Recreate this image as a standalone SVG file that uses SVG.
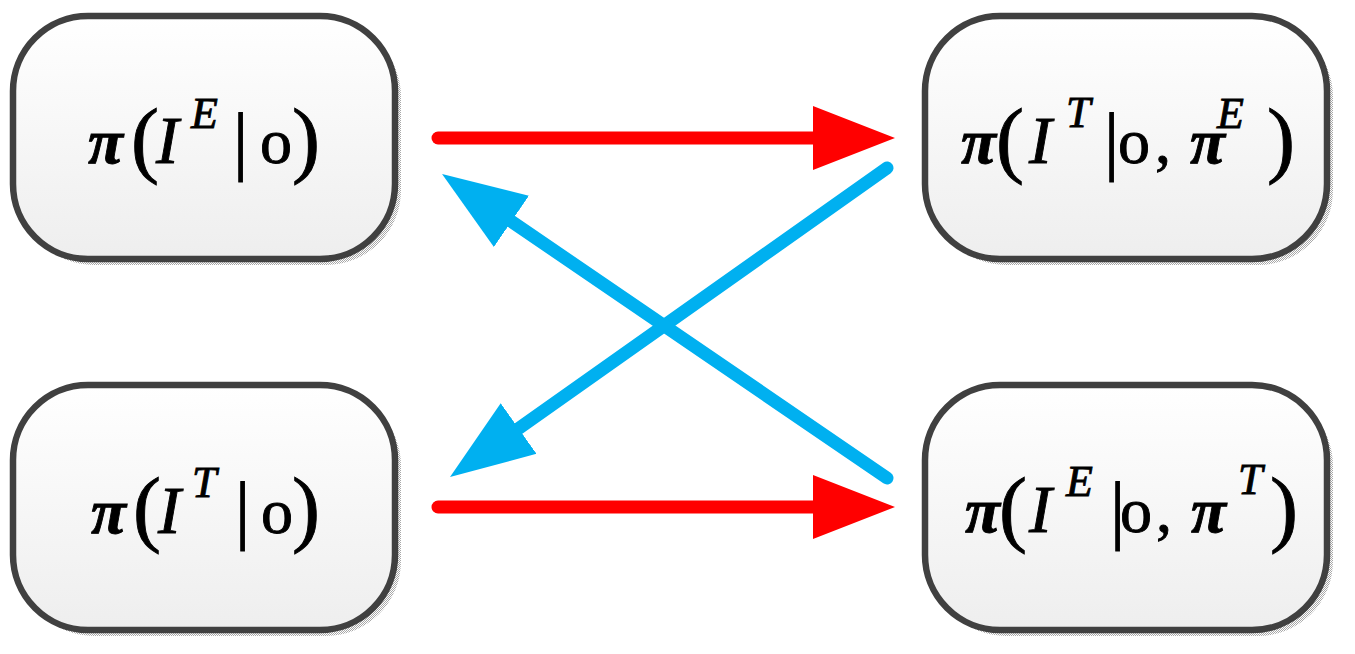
<svg xmlns="http://www.w3.org/2000/svg" width="1355" height="654" viewBox="0 0 1355 654">
<style>
.box{fill:url(#g);stroke:#404040;stroke-width:6.5}
.sh{fill:url(#chk)}
.t{font-family:"Liberation Serif","Times New Roman",serif;font-size:64px;fill:#000;stroke:#000;stroke-width:0.9}
.i{font-style:italic;font-size:68px}
.p{font-style:italic;font-weight:bold}
.sup{font-size:44px;font-style:italic}
.par{font-size:84px}
.bar{font-size:76px}
.red{stroke:#FF0000;stroke-width:13;stroke-linecap:round;fill:none}
.blue{stroke:#00B0F0;stroke-width:13;stroke-linecap:round;fill:none}
</style>
<defs>
<linearGradient id="g" x1="0" y1="0" x2="0" y2="1">
<stop offset="0" stop-color="#FFFFFF"/>
<stop offset="1" stop-color="#EEEEEE"/>
</linearGradient>
<pattern id="chk" width="2" height="2" patternUnits="userSpaceOnUse">
<rect width="2" height="2" fill="#FFFFFF"/>
<rect width="1" height="1" fill="#A8A8A8"/>
<rect x="1" y="1" width="1" height="1" fill="#A8A8A8"/>
</pattern>
<marker id="ar" markerUnits="userSpaceOnUse" markerWidth="90" markerHeight="70" viewBox="0 -35 90 70" refX="0" refY="0" orient="auto">
<path d="M0,-32 L82,0 L0,32 Z" fill="#FF0000"/>
</marker>
<marker id="ab" markerUnits="userSpaceOnUse" markerWidth="90" markerHeight="70" viewBox="0 -35 90 70" refX="0" refY="0" orient="auto">
<path d="M0,-31 L84,0 L0,31 Z" fill="#00B0F0"/>
</marker>
</defs>
<rect width="1355" height="654" fill="#FFFFFF"/>

<g id="n1">
<rect class="sh" x="19" y="22" width="382" height="243" rx="75" ry="75"/>
<rect class="box" x="13" y="16" width="382" height="243" rx="75" ry="75"/>
<text class="t"><tspan class="p" x="88" y="163">π</tspan><tspan class="par" x="131" y="167">(</tspan><tspan class="i" x="156" y="163">I</tspan><tspan class="sup" x="191" y="128">E</tspan><tspan class="bar" x="233" y="166">|</tspan><tspan x="260" y="163">o</tspan><tspan class="par" x="292" y="167">)</tspan></text>
</g>

<g id="n2">
<rect class="sh" x="931" y="22" width="402" height="243" rx="75" ry="75"/>
<rect class="box" x="925" y="16" width="402" height="243" rx="75" ry="75"/>
<text class="t"><tspan class="p" x="961" y="163">π</tspan><tspan class="par" x="996" y="167">(</tspan><tspan class="i" x="1029" y="163">I</tspan><tspan class="sup" x="1066" y="127">T</tspan><tspan class="bar" x="1104" y="166">|</tspan><tspan x="1118" y="163">o</tspan><tspan x="1155" y="163">,</tspan><tspan class="p" x="1190" y="163">π</tspan><tspan class="sup" x="1217" y="128">E</tspan><tspan class="par" x="1267" y="167">)</tspan></text>
</g>

<g id="n3">
<rect class="sh" x="19" y="391" width="382" height="245" rx="75" ry="75"/>
<rect class="box" x="13" y="385" width="382" height="245" rx="75" ry="75"/>
<text class="t"><tspan class="p" x="91" y="533">π</tspan><tspan class="par" x="133" y="536">(</tspan><tspan class="i" x="158" y="533">I</tspan><tspan class="sup" x="192" y="497">T</tspan><tspan class="bar" x="235" y="535">|</tspan><tspan x="261" y="533">o</tspan><tspan class="par" x="292" y="536">)</tspan></text>
</g>

<g id="n4">
<rect class="sh" x="931" y="391" width="402" height="245" rx="75" ry="75"/>
<rect class="box" x="925" y="385" width="402" height="245" rx="75" ry="75"/>
<text class="t"><tspan class="p" x="965" y="532">π</tspan><tspan class="par" x="999" y="536">(</tspan><tspan class="i" x="1029" y="532">I</tspan><tspan class="sup" x="1066" y="496">E</tspan><tspan class="bar" x="1110" y="535">|</tspan><tspan x="1120" y="532">o</tspan><tspan x="1156" y="532">,</tspan><tspan class="p" x="1191" y="532">π</tspan><tspan class="sup" x="1238" y="494">T</tspan><tspan class="par" x="1270" y="536">)</tspan></text>
</g>

<g id="connectors">
<path class="red" d="M438,138 L813,138" marker-end="url(#ar)"/>
<path class="red" d="M438,507 L813,507" marker-end="url(#ar)"/>
<path class="blue" d="M887,168 L518.6,428.5" marker-end="url(#ab)"/>
<path class="blue" d="M887,478 L511.4,221.4" marker-end="url(#ab)"/>
</g>
</svg>
